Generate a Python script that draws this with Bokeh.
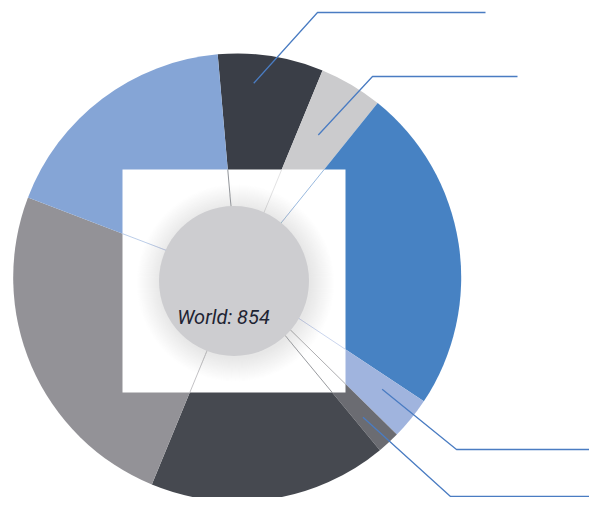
import numpy as np
from bokeh.plotting import figure
from bokeh.models import Range1d, ColumnDataSource
from bokeh.embed import file_html
from bokeh.resources import INLINE
from bokeh.core.properties import value

# ---------------- data ----------------
segments = ["Segment 1", "Segment 2", "Segment 3", "Segment 4",
            "Segment 5", "Segment 6", "Segment 7", "Segment 8"]
counts = [65, 39, 201, 26, 14, 147, 210, 152]
total_label = "World: 854"
colors = ["#3a3e47", "#cbcbcd", "#4782c3", "#a0b4de",
          "#6b6c72", "#464950", "#939297", "#85a5d6"]

# ---------------- layout ----------------
W, H = 589, 497
TOP = 513
def Y(y):  # page pixel (top-down) -> data (bottom-up)
    return TOP - y

CX, CY, R = 236.7, Y(277), 224.0
ICX, ICY, IR = 233.5, Y(280.5), 75.0
BOX = 223.0
START_DEG = 95.0

total = float(sum(counts))
cum = np.cumsum([0] + counts)
start_a = np.radians(START_DEG) - cum[:-1] / total * 2 * np.pi
end_a = np.radians(START_DEG) - cum[1:] / total * 2 * np.pi

p = figure(width=W, height=H, x_range=Range1d(0, W), y_range=Range1d(TOP - H, TOP),
           output_backend="svg", toolbar_location=None, min_border=0)
p.axis.visible = False
p.grid.visible = False
p.outline_line_color = None
p.background_fill_color = "white"
p.border_fill_color = "white"

src = ColumnDataSource(dict(seg=segments, val=counts, color=colors,
                            s=list(end_a), e=list(start_a)))
p.wedge(x=CX, y=CY, radius=R, start_angle="s", end_angle="e", source=src,
        fill_color="color", line_color=None)

# white box
p.rect(x=ICX, y=ICY, width=BOX, height=BOX, fill_color="white", line_color=None)

# faint boundary lines from circle to box edge
x0, x1 = ICX - BOX / 2, ICX + BOX / 2
y0, y1 = ICY - BOX / 2, ICY + BOX / 2
bx, by = [], []
for a in start_a:
    dx, dy = np.cos(a), np.sin(a)
    ts = []
    if dx > 1e-9: ts.append((x1 - CX) / dx)
    if dx < -1e-9: ts.append((x0 - CX) / dx)
    if dy > 1e-9: ts.append((y1 - CY) / dy)
    if dy < -1e-9: ts.append((y0 - CY) / dy)
    t = min(ts)
    bx.append([CX + 60 * dx, CX + t * dx])
    by.append([CY + 60 * dy, CY + t * dy])
p.multi_line(xs=bx, ys=by, line_color=colors, line_alpha=0.7, line_width=0.8)

# soft shadow
for k in range(24):
    p.circle(x=ICX + 1.5, y=ICY - 2.0, radius=IR + 0.5 + k, fill_color="#a4a2b4",
             fill_alpha=0.016, line_color=None)
p.circle(x=ICX, y=ICY, radius=IR, fill_color="#cdcdd0", line_color=None)

p.text(x=[223], y=[Y(316.5)], text=[total_label], text_font=value("Roboto"),
       text_font_style="italic", text_font_size="20px", text_color="#1e2433",
       text_align="center", text_baseline="alphabetic")

# leader lines
lead_idx = [0, 1, 3, 4]
lead_frac = [0.36, 0.44, 0.37, 0.59]
lead_r = [195, 164, 183, 188]
lead_elbow = [(317, 12), (372, 76), (456, 449), (450, 496)]
lead_end = [485, 517, 592, 592]
lx, ly = [], []
for i, f, r, (ex, ey), xe in zip(lead_idx, lead_frac, lead_r, lead_elbow, lead_end):
    a = start_a[i] + f * (end_a[i] - start_a[i])
    sx, sy = CX + r * np.cos(a), CY + r * np.sin(a)
    lx.append([sx, ex, xe])
    ly.append([sy, Y(ey), Y(ey)])
p.multi_line(xs=lx, ys=ly, line_color="#4a7cc2", line_width=1.3)

open("out.html", "w").write(file_html(p, INLINE))
